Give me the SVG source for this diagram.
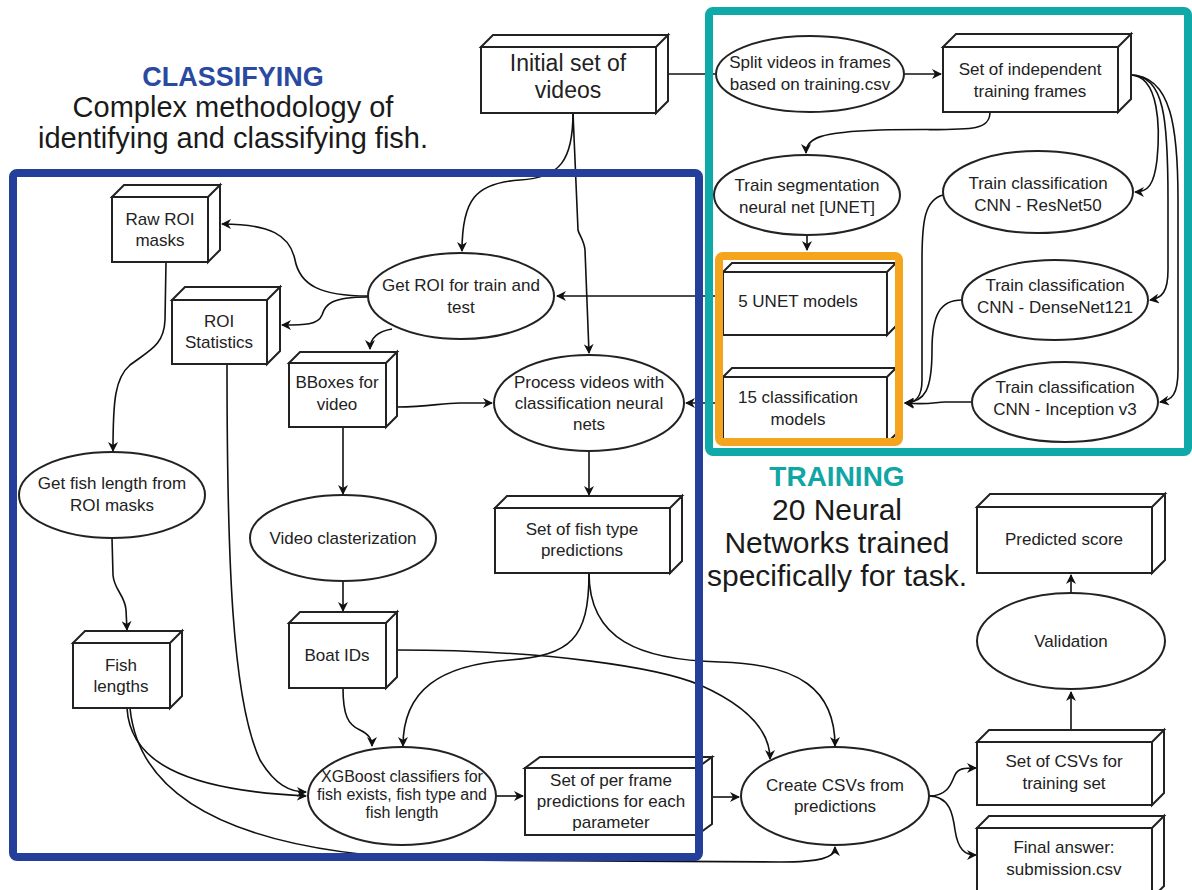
<svg xmlns="http://www.w3.org/2000/svg" width="1192" height="890" viewBox="0 0 1192 890">
<style>
.box{fill:#fff;stroke:#222;stroke-width:2}
.ell{fill:#fff;stroke:#222;stroke-width:2}
.t{font-family:"Liberation Sans",Arial,sans-serif;font-size:17px;fill:#222;text-anchor:middle}
.s{font-size:16px}
.big{font-size:23px}
.c{fill:none;stroke:#111;stroke-width:1.6}
.a{marker-end:url(#arr)}
.title{font-family:"Liberation Sans",Arial,sans-serif;text-anchor:middle}
.frame{fill:none;stroke-width:8}
</style>
<defs>
<marker id="arr" viewBox="0 0 10 10" refX="9" refY="5" markerWidth="10" markerHeight="10" markerUnits="userSpaceOnUse" orient="auto">
<path d="M0,0 L10,5 L0,10 L3,5 z" fill="#111"/>
</marker>
</defs>
<rect width="1192" height="890" fill="#fff"/>

<g id="titles">
<text class="title" x="233" y="86" font-size="27" font-weight="bold" fill="#2a49a0">CLASSIFYING</text>
<text class="title" x="233" y="117" font-size="29" fill="#1a1a1a">Complex methodology of</text>
<text class="title" x="233" y="148" font-size="29" fill="#1a1a1a">identifying and classifying fish.</text>
<text class="title" x="837" y="486" font-size="28" font-weight="bold" fill="#10a6a6">TRAINING</text>
<text class="title" x="837" y="520" font-size="30" fill="#1a1a1a">20 Neural</text>
<text class="title" x="837" y="553" font-size="30" fill="#1a1a1a">Networks trained</text>
<text class="title" x="837" y="586" font-size="30" fill="#1a1a1a">specifically for task.</text>
</g>

<g id="connectors">
<path class="c" d="M668 74 L715 74"/>
<path class="c a" d="M903 74 L941 74"/>
<path class="c a" d="M990 112 C990 135 960 128 880 130 C820 132 806 138 806 153"/>
<path class="c a" d="M1130 75 C1160 75 1160 130 1157 160 C1154 185 1148 192 1135 192"/>
<path class="c a" d="M1130 75 C1165 75 1168 120 1168 200 L1168 270 C1168 292 1162 298 1150 300"/>
<path class="c a" d="M1130 75 C1172 75 1178 130 1178 200 L1178 370 C1178 395 1172 400 1160 402"/>
<path class="c a" d="M807 235 L807 250"/>
<path class="c a" d="M943 195 C925 200 922 220 922 260 L922 380 C922 398 915 403 905 403"/>
<path class="c a" d="M962 300 C940 300 932 315 932 350 C932 390 925 402 905 403"/>
<path class="c a" d="M972 402 L945 402 C935 402 930 405 905 403"/>
<path class="c a" d="M573 113 C573 160 560 178 520 180 C475 183 462 200 462 251"/>
<path class="c a" d="M573 113 L578 230 C579 235 584 240 585 250 L589 353"/>
<path class="c a" d="M719 296 L557 296"/>
<path class="c a" d="M719 403 L686 403"/>
<path class="c a" d="M368 296 C320 296 300 285 295 260 C290 235 270 224 222 224"/>
<path class="c a" d="M368 297 C330 297 325 305 322 315 C318 325 305 325 282 325"/>
<path class="c a" d="M392 329 C375 332 370 340 370 349"/>
<path class="c a" d="M397 407 C430 407 440 403 460 403 L492 403"/>
<path class="c a" d="M343 427 L343 494"/>
<path class="c a" d="M343 582 L343 611"/>
<path class="c a" d="M589 452 L589 495"/>
<path class="c a" d="M166 262 L165 320 C164 345 150 350 130 365 C115 378 113 400 113 451"/>
<path class="c a" d="M112 538 L113 575 C114 590 125 595 126 610 L127 630"/>
<path class="c a" d="M227 364 C227 560 232 700 260 760 C275 785 290 792 306 792"/>
<path class="c a" d="M127 708 C130 760 180 790 306 796"/>
<path class="c a" d="M130 708 C140 810 260 855 450 860 L780 862 C820 862 835 858 835 847"/>
<path class="c a" d="M343 688 C343 715 348 725 360 730 C370 735 372 740 372 746"/>
<path class="c a" d="M589 573 C589 640 570 655 510 660 C440 665 403 690 403 746"/>
<path class="c a" d="M589 573 C589 640 640 660 720 662 C800 664 835 690 835 746"/>
<path class="c a" d="M397 650 C550 650 660 668 700 685 C745 705 770 730 770 759"/>
<path class="c a" d="M496 796 L523 796"/>
<path class="c a" d="M712 797 L739 797"/>
<path class="c a" d="M929 796 C950 796 952 780 955 775 C958 768 965 768 976 768"/>
<path class="c a" d="M929 796 C950 796 953 815 955 830 C958 850 965 855 976 855"/>
<path class="c a" d="M1071 729 L1071 692"/>
<path class="c a" d="M1071 593 L1071 575"/>
</g>

<g id="n-initial">
<path class="box" d="M481 47 L493 35 L668 35 L656 47 Z M656 47 L668 35 L668 101 L656 113 Z"/>
<rect class="box" x="481" y="47" width="175" height="66"/>
<text class="t big" x="568" y="71">Initial set of</text>
<text class="t big" x="568" y="98">videos</text>
</g>

<g id="n-split">
<ellipse class="ell" cx="810" cy="74" rx="94" ry="38"/>
<text class="t" x="810" y="68">Split videos in frames</text>
<text class="t" x="810" y="90">based on training.csv</text>
</g>

<g id="n-frames">
<path class="box" d="M943 47 L956 34 L1131 34 L1118 47 Z M1118 47 L1131 34 L1131 99 L1118 112 Z"/>
<rect class="box" x="943" y="47" width="175" height="65"/>
<text class="t" x="1030" y="75">Set of independent</text>
<text class="t" x="1030" y="97">training frames</text>
</g>

<g id="n-seg">
<ellipse class="ell" cx="807" cy="195" rx="93" ry="40"/>
<text class="t" x="807" y="191">Train segmentation</text>
<text class="t" x="807" y="213">neural net [UNET]</text>
</g>

<g id="n-resnet">
<ellipse class="ell" cx="1038" cy="192" rx="95" ry="41"/>
<text class="t" x="1038" y="189">Train classification</text>
<text class="t" x="1038" y="211">CNN - ResNet50</text>
</g>

<g id="n-densenet">
<ellipse class="ell" cx="1055" cy="300" rx="93" ry="40"/>
<text class="t" x="1055" y="291">Train classification</text>
<text class="t" x="1055" y="313">CNN - DenseNet121</text>
</g>

<g id="n-inception">
<ellipse class="ell" cx="1065" cy="402" rx="93" ry="40"/>
<text class="t" x="1065" y="393">Train classification</text>
<text class="t" x="1065" y="415">CNN - Inception v3</text>
</g>

<g id="n-unet">
<path class="box" d="M723 272 L732 263 L896 263 L887 272 Z M887 272 L896 263 L896 326 L887 335 Z"/>
<rect class="box" x="723" y="272" width="164" height="63"/>
<text class="t" x="798" y="307">5 UNET models</text>
</g>

<g id="n-cls15">
<path class="box" d="M723 377 L732 368 L896 368 L887 377 Z M887 377 L896 368 L896 434 L887 443 Z"/>
<rect class="box" x="723" y="377" width="164" height="66"/>
<text class="t" x="798" y="403">15 classification</text>
<text class="t" x="798" y="425">models</text>
</g>

<g id="n-getroi">
<ellipse class="ell" cx="461" cy="296" rx="93" ry="43"/>
<text class="t" x="461" y="291">Get ROI for train and</text>
<text class="t" x="461" y="313">test</text>
</g>

<g id="n-rawroi">
<path class="box" d="M112 197 L124 185 L220 185 L208 197 Z M208 197 L220 185 L220 250 L208 262 Z"/>
<rect class="box" x="112" y="197" width="96" height="65"/>
<text class="t" x="160" y="225">Raw ROI</text>
<text class="t" x="160" y="246">masks</text>
</g>

<g id="n-roistat">
<path class="box" d="M172 300 L185 287 L280 287 L267 300 Z M267 300 L280 287 L280 351 L267 364 Z"/>
<rect class="box" x="172" y="300" width="95" height="64"/>
<text class="t" x="219" y="327">ROI</text>
<text class="t" x="219" y="348">Statistics</text>
</g>

<g id="n-bboxes">
<path class="box" d="M289 363 L300 352 L397 352 L386 363 Z M386 363 L397 352 L397 416 L386 427 Z"/>
<rect class="box" x="289" y="363" width="97" height="64"/>
<text class="t" x="337" y="388">BBoxes for</text>
<text class="t" x="337" y="410">video</text>
</g>

<g id="n-process">
<ellipse class="ell" cx="589" cy="403" rx="95" ry="48"/>
<text class="t" x="589" y="388">Process videos with</text>
<text class="t" x="589" y="409">classification neural</text>
<text class="t" x="589" y="430">nets</text>
</g>

<g id="n-clast">
<ellipse class="ell" cx="343" cy="538" rx="93" ry="43"/>
<text class="t" x="343" y="544">Video clasterization</text>
</g>

<g id="n-getlen">
<ellipse class="ell" cx="112" cy="495" rx="93" ry="43"/>
<text class="t" x="112" y="489">Get fish length from</text>
<text class="t" x="112" y="511">ROI masks</text>
</g>

<g id="n-fishlen">
<path class="box" d="M73 643 L85 631 L182 631 L170 643 Z M170 643 L182 631 L182 696 L170 708 Z"/>
<rect class="box" x="73" y="643" width="97" height="65"/>
<text class="t" x="121" y="671">Fish</text>
<text class="t" x="121" y="692">lengths</text>
</g>

<g id="n-boat">
<path class="box" d="M289 623 L300 612 L397 612 L386 623 Z M386 623 L397 612 L397 677 L386 688 Z"/>
<rect class="box" x="289" y="623" width="97" height="65"/>
<text class="t" x="337" y="661">Boat IDs</text>
</g>

<g id="n-fishtype">
<path class="box" d="M495 508 L507 496 L682 496 L670 508 Z M670 508 L682 496 L682 561 L670 573 Z"/>
<rect class="box" x="495" y="508" width="175" height="65"/>
<text class="t" x="582" y="535">Set of fish type</text>
<text class="t" x="582" y="556">predictions</text>
</g>

<g id="n-xgb">
<ellipse class="ell" cx="402" cy="796" rx="94" ry="49"/>
<text class="t s" x="402" y="782">XGBoost classifiers for</text>
<text class="t s" x="402" y="800">fish exists, fish type and</text>
<text class="t s" x="402" y="818">fish length</text>
</g>

<g id="n-perframe">
<path class="box" d="M525 768 L540 757 L712 757 L697 768 Z M697 768 L712 757 L712 824 L697 835 Z"/>
<rect class="box" x="525" y="768" width="172" height="67"/>
<text class="t" x="611" y="786">Set of per frame</text>
<text class="t" x="611" y="807">predictions for each</text>
<text class="t" x="611" y="828">parameter</text>
</g>

<g id="n-create">
<ellipse class="ell" cx="835" cy="796" rx="94" ry="49"/>
<text class="t" x="835" y="791">Create CSVs from</text>
<text class="t" x="835" y="812">predictions</text>
</g>

<g id="n-csvs">
<path class="box" d="M977 742 L989 730 L1164 730 L1152 742 Z M1152 742 L1164 730 L1164 793 L1152 805 Z"/>
<rect class="box" x="977" y="742" width="175" height="63"/>
<text class="t" x="1064" y="767">Set of CSVs for</text>
<text class="t" x="1064" y="789">training set</text>
</g>

<g id="n-final">
<path class="box" d="M977 828 L989 816 L1164 816 L1152 828 Z M1152 828 L1164 816 L1164 886 L1152 898 Z"/>
<rect class="box" x="977" y="828" width="175" height="70"/>
<text class="t" x="1064" y="853">Final answer:</text>
<text class="t" x="1064" y="875">submission.csv</text>
</g>

<g id="n-validation">
<ellipse class="ell" cx="1071" cy="641" rx="94" ry="48"/>
<text class="t" x="1071" y="647">Validation</text>
</g>

<g id="n-score">
<path class="box" d="M977 507 L990 494 L1165 494 L1152 507 Z M1152 507 L1165 494 L1165 560 L1152 573 Z"/>
<rect class="box" x="977" y="507" width="175" height="66"/>
<text class="t" x="1064" y="545">Predicted score</text>
</g>

<g id="frames">
<rect class="frame" x="709" y="11" width="479" height="441" rx="4" stroke="#10a9a9"/>
<rect class="frame" x="719" y="256" width="180" height="186" rx="4" stroke="#f5a41d"/>
<rect class="frame" x="13" y="173" width="686" height="684" rx="4" stroke="#233f99"/>
</g>
</svg>
